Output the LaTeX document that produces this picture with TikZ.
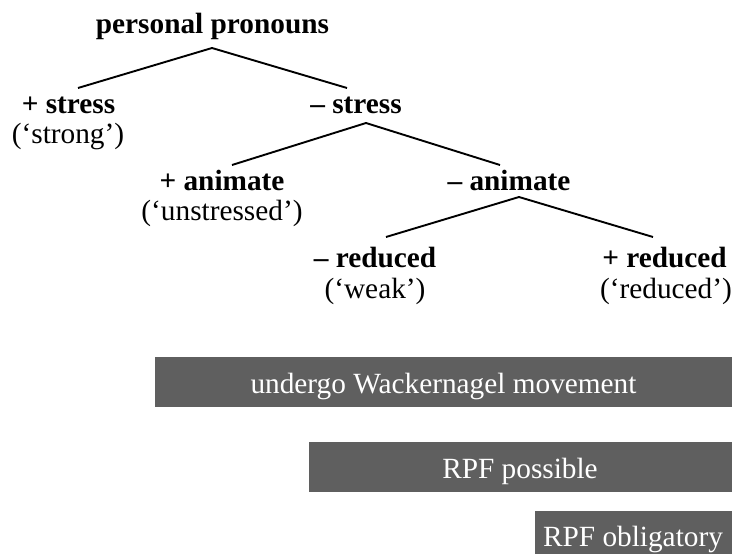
\documentclass[tikz,border=0pt]{standalone}
\usepackage{fontspec}
\setmainfont{Liberation Serif}
\definecolor{boxgray}{HTML}{5F5F5F}
\begin{document}
\begin{tikzpicture}[x=1pt,y=-1pt,
  lbl/.style={inner sep=0pt,anchor=base,font=\fontsize{29.3}{34}\selectfont},
  feat/.style={lbl,font=\fontsize{29.3}{34}\selectfont\bfseries},
  branch/.style={line width=1.9pt},
  bar/.style={fill=boxgray,draw=none},
  bartext/.style={lbl,text=white}]
\useasboundingbox (0,0) rectangle (732,554);
% tree labels
\node[feat] (pp) at (212.5,33) {personal pronouns};
\node[feat] (ps) at (68.5,113) {+ stress};
\node[lbl]  (psg) at (68,143) {(‘strong’)};
\node[feat] (ms) at (356,113) {– stress};
\node[feat] (pa) at (222,190) {+ animate};
\node[lbl]  (pag) at (222,220) {(‘unstressed’)};
\node[feat] (ma) at (509,190) {– animate};
\node[feat] (mr) at (375,267) {– reduced};
\node[lbl]  (mrg) at (375,298) {(‘weak’)};
\node[feat] (pr) at (664.5,267) {+ reduced};
\node[lbl]  (prg) at (666,298) {(‘reduced’)};
% branch points
\coordinate (pp-b) at (212,48);
\coordinate (ps-t) at (78,88);
\coordinate (ms-t) at (347,88);
\coordinate (ms-b) at (366,123);
\coordinate (pa-t) at (232,165);
\coordinate (ma-t) at (500,165);
\coordinate (ma-b) at (519,197);
\coordinate (mr-t) at (386,237);
\coordinate (pr-t) at (653,237);
\draw[branch] (ps-t) -- (pp-b) -- (ms-t);
\draw[branch] (pa-t) -- (ms-b) -- (ma-t);
\draw[branch] (mr-t) -- (ma-b) -- (pr-t);
% bars
\path[bar] (155,357) rectangle (732,407);
\path[bar] (309,442) rectangle (732,492);
\path[bar] (535,511) rectangle (732,554);
\node[bartext] (wm) at (443.5,393) {undergo Wackernagel movement};
\node[bartext] (rp) at (520,478) {RPF possible};
\node[bartext] (ro) at (633,546) {RPF obligatory};
\end{tikzpicture}
\end{document}
